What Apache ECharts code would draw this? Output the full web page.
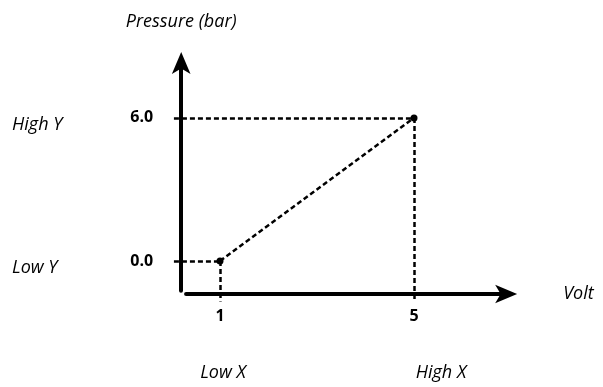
<!DOCTYPE html>
<html>
<head>
<meta charset="utf-8">
<script src="https://cdn.jsdelivr.net/npm/echarts@6/dist/echarts.min.js"></script>
<style>
  html, body { margin: 0; padding: 0; background: #fff; }
  #chart { width: 603px; height: 387px; }
</style>
</head>
<body>
<div id="chart"></div>
<script>
// Linear mapping of an input voltage to a pressure reading
const voltPoints = [1, 5];            // Low X, High X
const pressurePoints = [0.0, 6.0];    // Low Y, High Y
const xTickValues = [1, 5];
const yTickValues = [0, 6];
const xName = 'Volt';
const yName = 'Pressure (bar)';
const rangeNames = { lowX: 'Low X', highX: 'High X', lowY: 'Low Y', highY: 'High Y' };

const FONT = '"Open Sans", "DejaVu Sans", sans-serif';
const INK = '#000';

// value-space ranges; all three grids share the same px-per-unit scale
const X_MIN = 0.0, X_MAX = 6.9;       // plotting grid
const Y_MIN = -1.8, Y_MAX = 8.3;
const X_AXIS_START = 0.3;             // visible volt axis begins here
const Y_AXIS_START = -1.25;           // visible pressure axis begins here
// guide lines run a little past the axes
const GUIDE_LEFT = 0.05;
const GUIDE_BOTTOM = -1.7;

const guideStyle = { color: INK, width: 2.5, type: [5, 3] };
const axisLineStyle = { color: INK, width: 4 };
const arrowHead = { symbol: ['none', 'arrow'], symbolSize: [14, 22], symbolOffset: [0, 11] };

const points = voltPoints.map((v, i) => [v, pressurePoints[i]]);

const guides = [];
points.forEach(([x, y]) => {
  guides.push([{ coord: [GUIDE_LEFT, y] }, { coord: [x, y] }]);
  guides.push([{ coord: [x, y] }, { coord: [x, GUIDE_BOTTOM] }]);
});

const hidden = { show: false };

const chart = echarts.init(document.getElementById('chart'), null, { renderer: 'canvas' });

chart.setOption({
  backgroundColor: '#fff',
  animation: false,
  grid: [
    // 0: plotting area (axes hidden)
    { left: 171.5, right: 96.85, top: 63.05, bottom: 83.1, outerBoundsMode: 'none', containLabel: false },
    // 1: volt axis
    { left: 186.05, right: 96.85, top: 63.05, bottom: 93, outerBoundsMode: 'none', containLabel: false },
    // 2: pressure axis
    { left: 181.2, right: 96.85, top: 63.05, bottom: 96.2, outerBoundsMode: 'none', containLabel: false }
  ],
  xAxis: [
    { gridIndex: 0, type: 'value', min: X_MIN, max: X_MAX, show: false },
    {
      gridIndex: 1, type: 'value', min: X_AXIS_START, max: X_MAX,
      name: xName, nameLocation: 'end', nameGap: 57,
      nameTextStyle: { fontFamily: FONT, fontStyle: 'italic', fontSize: 18, color: INK, verticalAlign: 'middle', align: 'left', padding: [4, 0, 0, 0] },
      axisLine: Object.assign({ show: true, onZero: false, lineStyle: axisLineStyle }, arrowHead),
      axisTick: hidden,
      splitLine: hidden,
      axisLabel: {
        customValues: xTickValues, margin: 14,
        fontFamily: FONT, fontWeight: 'bold', fontSize: 16, color: INK
      }
    },
    { gridIndex: 2, type: 'value', min: X_MIN, max: X_MAX, show: false }
  ],
  yAxis: [
    { gridIndex: 0, type: 'value', min: Y_MIN, max: Y_MAX, show: false },
    { gridIndex: 1, type: 'value', min: Y_MIN, max: Y_MAX, show: false },
    {
      gridIndex: 2, type: 'value', min: Y_AXIS_START, max: Y_MAX,
      name: yName, nameLocation: 'end', nameGap: 32,
      nameTextStyle: { fontFamily: FONT, fontStyle: 'italic', fontSize: 18, color: INK },
      axisLine: Object.assign({ show: true, onZero: false, lineStyle: axisLineStyle }, arrowHead),
      axisTick: hidden,
      splitLine: hidden,
      axisLabel: {
        customValues: yTickValues, margin: 28,
        formatter: v => v.toFixed(1),
        fontFamily: FONT, fontWeight: 'bold', fontSize: 16, color: INK
      }
    }
  ],
  series: [
    {
      type: 'line',
      xAxisIndex: 0, yAxisIndex: 0,
      data: points,
      clip: false,
      symbol: 'circle', symbolSize: 7,
      itemStyle: { color: INK },
      lineStyle: guideStyle,
      markLine: {
        silent: true,
        symbol: ['none', 'none'],
        label: { show: false },
        lineStyle: guideStyle,
        data: guides
      },
      z: 3
    }
  ]
});

// range-end annotations beside the axes
const lo = chart.convertToPixel({ xAxisIndex: 0, yAxisIndex: 0 }, points[0]);
const hi = chart.convertToPixel({ xAxisIndex: 0, yAxisIndex: 0 }, points[1]);
const ts = { fontFamily: FONT, fontStyle: 'italic', fontSize: 18, fill: INK, verticalAlign: 'middle' };
chart.setOption({
  graphic: [
    { type: 'text', x: 12, y: hi[1] + 7, style: Object.assign({ text: rangeNames.highY, align: 'left' }, ts) },
    { type: 'text', x: 12, y: lo[1] + 7, style: Object.assign({ text: rangeNames.lowY, align: 'left' }, ts) },
    { type: 'text', x: lo[0] + 3, y: 373, style: Object.assign({ text: rangeNames.lowX, align: 'center' }, ts) },
    { type: 'text', x: hi[0] + 27, y: 373, style: Object.assign({ text: rangeNames.highX, align: 'center' }, ts) }
  ]
});
</script>
</body>
</html>
